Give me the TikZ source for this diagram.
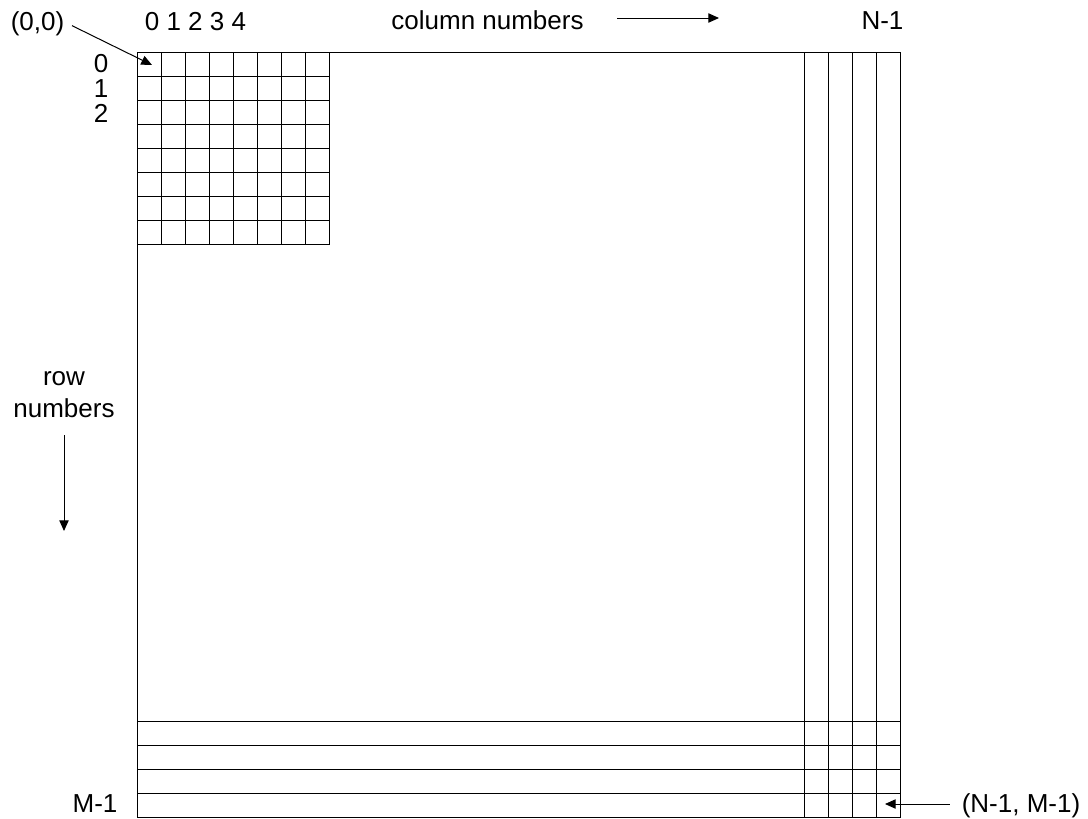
\documentclass[tikz,border=0pt]{standalone}
\usepackage{fontspec}
\setmainfont{Liberation Sans}
\usetikzlibrary{arrows.meta}

\begin{document}
\begin{tikzpicture}[x=0.75pt, y=-0.75pt, >={Triangle[length=8pt,width=7pt]},
  cell/.style={line width=0.75pt},
  ptr/.style={->, line width=0.75pt},
  lbl/.style={inner sep=2pt, anchor=base, font=\fontsize{19.5}{23}\selectfont}]
  \useasboundingbox (0,0) rectangle (1088,818);
  % the whole array
  \draw[cell] (137,52) rectangle (900,817);
  % first rows and columns
  \foreach \i in {1,...,8} {
    \draw[cell] (137+24*\i,52) -- (137+24*\i,245);
    \draw[cell] (137,52+24*\i) -- (329,52+24*\i);
  }
  % last columns and rows
  \foreach \k in {1,...,4} {
    \draw[cell] (900-24*\k,52) -- (900-24*\k,817);
    \draw[cell] (137,817-24*\k) -- (900,817-24*\k);
  }
  % labels
  \node[lbl] (lblorigin) at (37.5,30) {(0,0)};
  \node[lbl] (colidx) at (195.5,30) {0 1 2 3 4};
  \node[lbl] (colnums) at (487.5,29) {column numbers};
  \node[lbl] (lastcol) at (882.5,29) {N-1};
  \node[lbl] (row0) at (101,72) {0};
  \node[lbl] (row1) at (101,97) {1};
  \node[lbl] (row2) at (101,122) {2};
  \node[lbl] (rowtxt) at (64,385) {row};
  \node[lbl] (rownums) at (64,417) {numbers};
  \node[lbl] (lastrow) at (95,812) {M-1};
  \node[lbl] (lastlbl) at (1021,812) {(N-1, M-1)};
  % pointers
  \coordinate (origin) at (152,65);
  \coordinate (lastcell) at (885,804);
  \coordinate (colfrom) at (617,18);
  \coordinate (colto) at (719,18);
  \coordinate (rowfrom) at (64,435);
  \coordinate (rowto) at (64,531);
  \draw[ptr, shorten <=4pt] (lblorigin.east) -- (origin);
  \draw[ptr, shorten <=7pt] (lastlbl.west |- lastcell) -- (lastcell);
  \draw[ptr] (colfrom) -- (colto);
  \draw[ptr] (rowfrom) -- (rowto);
\end{tikzpicture}
\end{document}
